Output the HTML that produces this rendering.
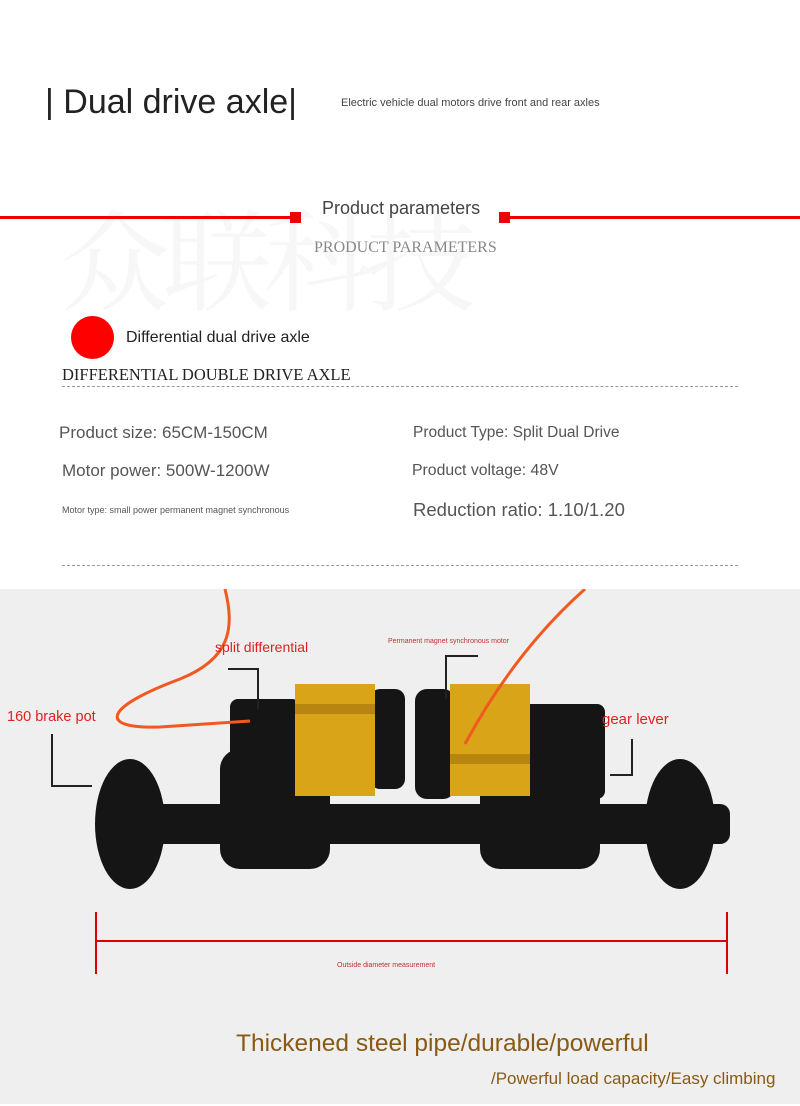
<!DOCTYPE html>
<html><head><meta charset="utf-8"><style>
*{margin:0;padding:0}
body{width:800px;height:1106px;position:relative;background:#fff;font-family:"Liberation Sans",sans-serif;overflow:hidden}
.a{position:absolute;white-space:nowrap;line-height:1}
</style></head><body>
<div class="a" style="left:60px;top:200px;font-size:110px;color:#f7f7f7;font-family:'Noto Serif CJK SC',serif;letter-spacing:-8px">众联科技</div>
<div class="a" style="left:45px;top:85px;font-size:34px;color:#222">| Dual drive axle|</div>
<div class="a" style="left:341px;top:98px;font-size:11px;color:#444">Electric vehicle dual motors drive front and rear axles</div>

<div class="a" style="left:0;top:216px;width:295px;height:3px;background:#e00"></div>
<div class="a" style="left:505px;top:216px;width:295px;height:3px;background:#e00"></div>
<div class="a" style="left:290px;top:212px;width:11px;height:11px;background:#e00"></div>
<div class="a" style="left:499px;top:212px;width:11px;height:11px;background:#e00"></div>
<div class="a" style="left:322px;top:199px;font-size:18px;color:#444">Product parameters</div>
<div class="a" style="left:314px;top:240px;font-size:16px;color:#888;font-family:'Liberation Serif',serif">PRODUCT PARAMETERS</div>

<div class="a" style="left:71px;top:316px;width:43px;height:43px;border-radius:50%;background:#f00"></div>
<div class="a" style="left:126px;top:330px;font-size:16px;color:#222">Differential dual drive axle</div>
<div class="a" style="left:62px;top:367px;font-size:16.5px;color:#222;font-family:'Liberation Serif',serif">DIFFERENTIAL DOUBLE DRIVE AXLE</div>
<div class="a" style="left:62px;top:386px;width:676px;border-top:1px dashed #999"></div>

<div class="a" style="left:59px;top:424px;font-size:17px;color:#555">Product size: 65CM-150CM</div>
<div class="a" style="left:413px;top:425px;font-size:15.5px;color:#555">Product Type: Split Dual Drive</div>
<div class="a" style="left:62px;top:462px;font-size:17px;color:#555">Motor power: 500W-1200W</div>
<div class="a" style="left:412px;top:463px;font-size:15.8px;color:#555">Product voltage: 48V</div>
<div class="a" style="left:62px;top:506px;font-size:9px;color:#555">Motor type: small power permanent magnet synchronous</div>
<div class="a" style="left:413px;top:501px;font-size:18.5px;color:#555">Reduction ratio: 1.10/1.20</div>
<div class="a" style="left:62px;top:565px;width:676px;border-top:1px dashed #999"></div>

<div class="a" style="left:0;top:589px;width:800px;height:515px;background:#efefef"></div>
<svg class="a" style="left:0;top:589px" width="800" height="515">
<g fill="#151515">
<rect x="110" y="215" width="620" height="40" rx="10"/>
<ellipse cx="130" cy="235" rx="35" ry="65"/>
<ellipse cx="680" cy="235" rx="35" ry="65"/>
<rect x="220" y="160" width="110" height="120" rx="20"/>
<rect x="480" y="160" width="120" height="120" rx="20"/>
<rect x="230" y="110" width="70" height="90" rx="8"/>
<rect x="515" y="115" width="90" height="95" rx="8"/>
<rect x="370" y="100" width="35" height="100" rx="10"/>
<rect x="415" y="100" width="40" height="110" rx="12"/>
</g>
<rect x="295" y="95" width="80" height="112" fill="#d9a418"/>
<rect x="450" y="95" width="80" height="112" fill="#d9a418"/>
<rect x="295" y="115" width="80" height="10" fill="#b78510"/>
<rect x="450" y="165" width="80" height="10" fill="#b78510"/>
<path d="M225 0 C235 40 230 70 180 90 C100 120 100 140 160 138 L250 132" stroke="#f05a20" stroke-width="3" fill="none"/>
<path d="M585 0 C540 40 500 90 465 155" stroke="#f05a20" stroke-width="3" fill="none"/>
<g stroke="#222" stroke-width="2" fill="none">
<path d="M52 145 V197 H92"/><path d="M228 80 H258 V120"/><path d="M478 67 H446 V110"/><path d="M632 150 V186 H610"/>
</g>
<g stroke="#d00" stroke-width="2">
<path d="M96 323 V385 M727 323 V385 M96 352 H727"/>
</g>
<text x="7" y="132" font-size="14.5" fill="#e02020" font-family="Liberation Sans">160 brake pot</text>
<text x="215" y="63" font-size="14" fill="#e02020" font-family="Liberation Sans">split differential</text>
<text x="388" y="54" font-size="7" fill="#c03030" font-family="Liberation Sans">Permanent magnet synchronous motor</text>
<text x="602" y="135" font-size="15" fill="#e02020" font-family="Liberation Sans">gear lever</text>
<text x="337" y="378" font-size="7" fill="#c03030" font-family="Liberation Sans">Outside diameter measurement</text>
<text x="236" y="462" font-size="24.5" fill="#8a5a14" font-family="Liberation Sans">Thickened steel pipe/durable/powerful</text>
<text x="491" y="495" font-size="17" fill="#8a5a14" font-family="Liberation Sans">/Powerful load capacity/Easy climbing</text>
</svg>
</body></html>
